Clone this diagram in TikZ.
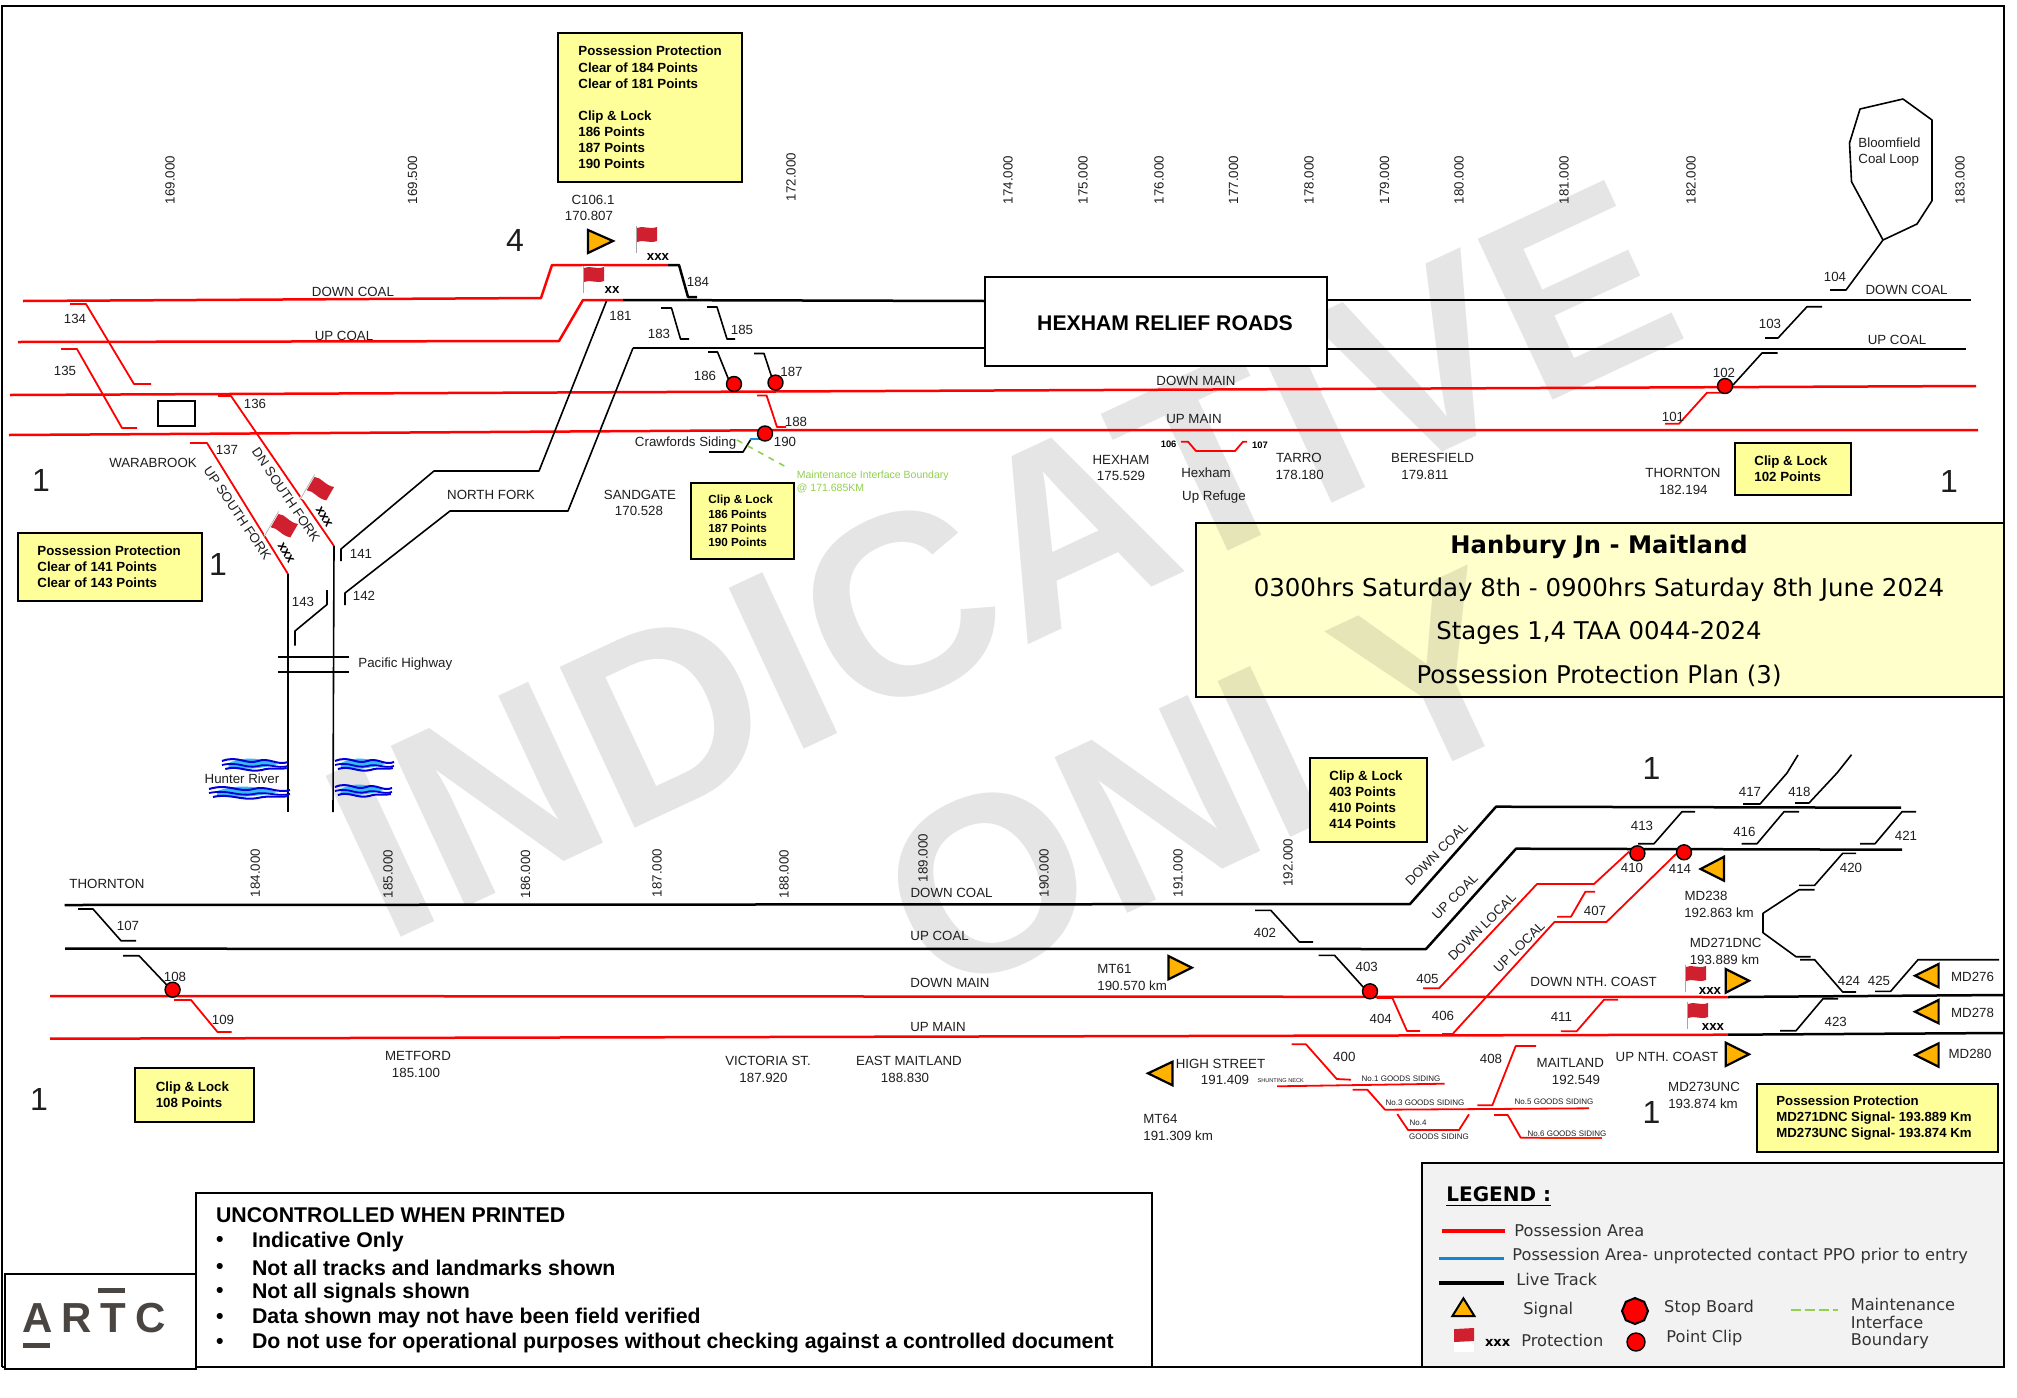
\documentclass[tikz,border=0pt]{standalone}
\usepackage{fontspec}
\usetikzlibrary{shapes.geometric}
\setmainfont{Liberation Sans}
\newfontfamily\vfam{DejaVu Sans}
\newcounter{tn}
\definecolor{tg}{HTML}{1E1E1E}
\definecolor{rd}{HTML}{FF0000}
\definecolor{yb}{HTML}{FFFF99}
\definecolor{yt}{HTML}{FFFFCC}
\definecolor{amb}{HTML}{FFB300}
\definecolor{flagred}{HTML}{D0202F}
\definecolor{mgreen}{HTML}{92D050}
\definecolor{logoc}{HTML}{4A4541}
\tikzset{
 txt/.style={inner sep=0pt,text=tg,font=\fontsize{6.65}{8}\selectfont},
 kmlab/.style={txt,rotate=90},
 big/.style={txt,font=\fontsize{16}{18}\selectfont},
 tiny/.style={txt,font=\fontsize{4}{5}\selectfont},
 bold/.style={txt,text=black,font=\fontsize{6.65}{8}\selectfont\bfseries},
 main/.style={line width=1.25pt,line join=round},
 blk/.style={main,black},
 redm/.style={main,rd},
 xo/.style={line width=.8pt,line join=round,black},
 xr/.style={line width=.9pt,line join=round,rd},
 sig/.style={draw=black,fill=amb,line width=1.1pt,line join=miter},
 pdot/.style={circle,draw=black,fill=rd,line width=.7pt,minimum size=7.5pt,inner sep=0pt},
 ybox/.style={draw=black,fill=yb,line width=1pt,inner sep=0pt,anchor=center},
 lg/.style={txt,font=\vfam\fontsize{8.1}{9.5}\selectfont,anchor=west,text=black!80},
 wm/.style={text=black,text opacity=.1,inner sep=0pt,font=\fontsize{129}{129}\selectfont\bfseries,rotate=25},
}
\newcommand\T[3][]{\stepcounter{tn}\node[txt,#1] (t\arabic{tn}) at (#2) {#3};}
\newcommand\YB[8]{%
 \pgfmathsetmacro\bw{(#4-#2)/2}\pgfmathsetmacro\bh{(#5-#3)/2}\pgfmathsetmacro\bls{#7*1.21}%
 \node[ybox,minimum width=\bw pt,minimum height=\bh pt] (#1) at ({(#2+#4)/2},{(#3+#5)/2}) {};
 \node[inner sep=0pt,anchor=west,align=left,text=black,font=\fontsize{#7}{\bls}\selectfont\bfseries] (#1t) at ({#2+#6},{(#3+#5)/2}) {#8};}
\newcommand\Flag[4]{\begin{scope}[shift={(#1,#2)},rotate=#3,scale=#4]
 \fill[white] (-2,-1) rectangle (20,24);
 \draw[black!35,line width=.3pt] (-1,-1) -- (-1,26);
 \fill[flagred] (0,1) .. controls (6,-2) and (12,3) .. (20,0) -- (20,14) .. controls (12,17) and (6,12) .. (0,15) -- cycle;
 \end{scope}}
\newcommand\Wave[3]{\begin{scope}[shift={(#1,#3)},xscale=#2]
 \fill[cyan!80] (10,-1) .. controls (35,-8) and (55,-6) .. (85,0) .. controls (55,5) and (35,6) .. (10,3) -- cycle;
 \draw[blue!85!black,line width=1pt] (0,-3) .. controls (25,-9) and (35,1) .. (55,-3) .. controls (70,-7) and (85,2) .. (100,-2);
 \draw[blue!85!black,line width=.9pt] (0,1) .. controls (25,-3) and (35,5) .. (55,2) .. controls (70,-1) and (85,5) .. (100,2);
 \draw[blue!85!black,line width=1pt] (5,5) .. controls (25,1) and (40,9) .. (60,6) .. controls (75,3) and (85,6) .. (98,4);
 \end{scope}}
\begin{document}
\begin{tikzpicture}[x=.5pt,y=-.5pt]
\useasboundingbox (0,0) rectangle (2017,1397);
\fill[white] (0,0) rectangle (2017,1397);
% title box fill (the watermark shows through it)
\fill[yt] (1196,523) rectangle (2004,697);
\node[wm] (wm1) at (1002,559) {INDICATIVE};
\node[wm,font=\fontsize{125}{125}\selectfont\bfseries] (wm2) at (1204,783) {ONLY};
% outer frame
\draw[black,line width=.9pt] (2,1367) -- (2,6) -- (2004,6) -- (2004,1163);
\draw[black,line width=.9pt] (2,1367) -- (1422,1367);
% title
\draw[black,line width=1.1pt] (1196,523) rectangle (2004,697);
\T[font=\vfam\fontsize{12.1}{14}\selectfont\bfseries,text=black]{1599,546.7}{Hanbury Jn - Maitland}
\T[font=\vfam\fontsize{12.25}{14}\selectfont,text=black]{1599,590}{0300hrs Saturday 8th - 0900hrs Saturday 8th June 2024}
\T[font=\vfam\fontsize{12.2}{14}\selectfont,text=black]{1599,633}{Stages 1,4 TAA 0044-2024}
\T[font=\vfam\fontsize{12.2}{14}\selectfont,text=black]{1599,676}{Possession Protection Plan (3)}
% km posts
\T[kmlab]{170,180}{169.000}\T[kmlab]{412.6,180}{169.500}\T[kmlab]{791,177}{172.000}
\T[kmlab]{1008,180}{174.000}\T[kmlab]{1083,180}{175.000}\T[kmlab]{1159,180}{176.000}\T[kmlab]{1233.5,180}{177.000}
\T[kmlab]{1309,180}{178.000}\T[kmlab]{1384.6,180}{179.000}\T[kmlab]{1459,180}{180.000}\T[kmlab]{1564,180}{181.000}
\T[kmlab]{1691,180}{182.000}\T[kmlab]{1960,180}{183.000}
\T[kmlab]{255.4,873}{184.000}\T[kmlab]{388,874}{185.000}\T[kmlab]{525.6,874}{186.000}\T[kmlab]{657,873}{187.000}
\T[kmlab]{784,874}{188.000}\T[kmlab]{923,858}{189.000}\T[kmlab]{1044,873}{190.000}\T[kmlab]{1178,873}{191.000}\T[kmlab]{1288,862.7}{192.000}
% upper main tracks
\draw[redm] (23,301) -- (541,298) -- (552,265) -- (668,265);
\draw[blk] (668,265) -- (679,265) -- (688,297) -- (697,297);
\draw[redm] (18,342) -- (559,341) -- (583,300) -- (623,300);
\draw[blk] (623,300) -- (985,301);
\draw[blk] (633,348) -- (985,348);
\draw[redm] (10,395) -- (1976,386);
\draw[redm] (9,435) -- (809,430) -- (1978,430);
\node[draw=black,fill=white,line width=1.3pt,minimum width=171pt,minimum height=44.5pt,inner sep=0pt] (hrr) at (1156,321.5) {};
\T[text=black,font=\fontsize{10.6}{12}\selectfont\bfseries]{1165,323}{HEXHAM RELIEF ROADS}
\draw[blk] (1327,300) -- (1971,300);
\draw[blk] (1327,349) -- (1966,349);
% north fork and south fork
\draw[xr] (70,304) -- (86,304) -- (134,384) -- (151,384);
\draw[xr] (61,349) -- (77,349) -- (122,428) -- (137,428);
\draw[black,line width=.7pt] (158,401) rectangle (195,426);
\draw[xr] (218,396) -- (231,396) -- (334,546);
\draw[xr] (190,443) -- (207,443) -- (288,574);
\draw[xo] (334,546) -- (333,812);
\draw[xo] (288,574) -- (288,812);
\draw[xo] (606.5,301) -- (539,471) -- (434,471) -- (341,549) -- (341,561);
\draw[xo] (633,348) -- (568,511) -- (450,511) -- (345,593) -- (345,605);
\draw[xo] (327,590) -- (327,604.5) -- (295,631) -- (295,645.5);
\draw[xo] (278,657) -- (349,657);
\draw[xo] (278,672) -- (349,672);
\draw[xo] (661,308) -- (671.5,308) -- (680.5,339) -- (689,339);
\draw[xo] (707,307) -- (717,307) -- (727,339) -- (735,339);
\draw[xo] (708,352) -- (717.5,352) -- (728,378) -- (734,384);
\draw[xo] (754,353.5) -- (764,353.5) -- (772,378) -- (775.5,382);
\draw[xr] (757,395.5) -- (766.6,395.5) -- (777,427) -- (786,427);
\draw[xo] (709,452) -- (743,452) -- (751,439);
\draw[line width=1.1pt,cyan!80!blue] (750,439) -- (764,439);
\draw[line width=.8pt,mgreen,dashed] (737,440) -- (788,468);
\node[pdot] (d186) at (734,384) {};
\node[pdot] (d187) at (775.5,382.6) {};
\node[pdot] (d190) at (765,433.5) {};
\Wave{222}{.66}{764}\Wave{209}{.81}{792}\Wave{335}{.59}{764}\Wave{335}{.57}{790}
% top area
\YB{bpp}{558}{33}{742}{182}{20}{6.65}{Possession Protection\\Clear of 184 Points\\Clear of 181 Points\\[8pt]Clip \& Lock\\186 Points\\187 Points\\190 Points}
\T{593,200}{C106.1}\T{589,216}{170.807}
\T[big]{515,240}{4}
\draw[sig] (588,230) -- (613,241) -- (588,253) -- cycle;
\Flag{637}{227}{0}{1}\Flag{584}{267}{0}{1}
\T[bold]{658,257}{xxx}\T[bold]{612,290}{xx}
\T{353,292}{DOWN COAL}\T{344,336}{UP COAL}
\T{75,319}{134}\T{65,370.5}{135}\T{255,404}{136}\T{227,450}{137}
\T{153,462.5}{WARABROOK}
\T[rotate=-56]{237.5,513}{UP SOUTH FORK}\T[rotate=-56]{286,495}{DN SOUTH FORK}
\Flag{315}{476}{-30}{1.1}\Flag{279}{513}{-30}{1.1}
\T[bold,rotate=-60]{324,517}{xxx}\T[bold,rotate=-60]{286,553}{xxx}
\T[big]{41,480}{1}\T[big]{218,564}{1}
\YB{bcl}{18}{533}{201.5}{601}{19}{6.65}{Possession Protection\\Clear of 141 Points\\Clear of 143 Points}
\T{361,553.6}{141}\T{364,596}{142}\T{303,602}{143}
\T[anchor=west]{358,664}{Pacific Highway}
\T{242,778.6}{Hunter River}
\T{620.5,316}{181}\T{659,334}{183}\T{742,329.5}{185}\T{698,282}{184}
\T{705,376}{186}\T{791.5,371.5}{187}\T{796,422}{188}\T{785,441.5}{190}
\T{685.6,443}{Crawfords Siding}
\T[anchor=west,text=mgreen,font=\fontsize{5.25}{6}\selectfont]{796.5,475.5}{Maintenance Interface Boundary}
\T[anchor=west,text=mgreen,font=\fontsize{5.25}{6}\selectfont]{796.5,488}{@ 171.685KM}
\T{491,495}{NORTH FORK}\T{640,495}{SANDGATE}\T{639,511}{170.528}
\YB{bc1}{691}{483}{794}{559}{17}{5.85}{Clip \& Lock\\186 Points\\187 Points\\190 Points}
% right upper
\draw[xo] (1883,240) -- (1851.5,181.7) -- (1849.5,143) -- (1860,109) -- (1903,99) -- (1932,120) -- (1932,200.7) -- (1917,224) -- cycle;
\draw[xo] (1883,240) -- (1846,290) -- (1830,290);
\T[anchor=west,align=left]{1858,152}{Bloomfield\\Coal Loop}
\T{1835,277}{104}\T{1906.6,290}{DOWN COAL}\T{1897,340}{UP COAL}
\draw[xo] (1765,338) -- (1778,338) -- (1807,306.7) -- (1822,306.7);
\T{1770,323.7}{103}
\draw[xo] (1733,385) -- (1762,353) -- (1777.5,353);
\draw[xr] (1665,423.7) -- (1679,423.7) -- (1707,392.7) -- (1725,392.7);
\node[pdot] (d102) at (1725,386) {};
\T{1724,372.7}{102}\T{1673,416.7}{101}
\T{1196,381}{DOWN MAIN}\T{1194,419}{UP MAIN}
\draw[xr] (1181,441.7) -- (1188,441.7) -- (1196,451) -- (1235,451) -- (1243,441.7) -- (1247,441.7);
\T[bold,font=\fontsize{4.7}{6}\selectfont\bfseries]{1168.6,444.7}{106}\T[bold,font=\fontsize{4.7}{6}\selectfont\bfseries]{1260,445}{107}
\T{1206,472.7}{Hexham}\T{1214,496.7}{Up Refuge}
\T{1121,460}{HEXHAM}\T{1121,476}{175.529}\T{1299,458}{TARRO}\T{1299.6,474.7}{178.180}
\T{1432.6,458}{BERESFIELD}\T{1425,474.7}{179.811}\T{1683,473}{THORNTON}\T{1683.5,489.7}{182.194}
\YB{bc2}{1735}{443}{1851}{495}{19}{6.65}{Clip \& Lock\\102 Points}
\T[big]{1949,481}{1}
% lower main tracks
\draw[blk] (64.5,905) -- (1410,904) -- (1496,806.7) -- (1901,807.7);
\draw[blk] (65,948.7) -- (1426,949) -- (1516,848.7) -- (1902,849.7);
\draw[redm] (50,996) -- (1727.5,997);
\draw[blk] (1727.5,997) -- (2004,995);
\draw[redm] (50,1038.7) -- (1727.5,1034.7);
\draw[blk] (1727.5,1034.7) -- (2004,1033);
\draw[xo] (78,909) -- (93,909) -- (121,940.7) -- (136,940.7);
\draw[xo] (123,955.7) -- (139,955.7) -- (168.4,986.7);
\node[pdot] (d108) at (172.6,989.7) {};
\draw[xr] (174,1000) -- (191,1000) -- (217.5,1032) -- (231.6,1032);
\T{107,884}{THORNTON}\T{128,926}{107}\T{175,976.7}{108}\T{223,1020}{109}
\T{951.6,893}{DOWN COAL}\T{939.6,936}{UP COAL}\T{950,982.7}{DOWN MAIN}\T{938,1027}{UP MAIN}
\T{418,1056}{METFORD}\T{416,1072.7}{185.100}\T{768,1061}{VICTORIA ST.}\T{763.5,1077.7}{187.920}\T{909,1061}{EAST MAITLAND}\T{905,1077.7}{188.830}
\YB{bc3}{135.4}{1067.7}{254}{1122}{20}{6.65}{Clip \& Lock\\108 Points}
\T[big]{39,1099}{1}\T[big]{1651.5,768.3}{1}\T[big]{1651.5,1112.7}{1}
\YB{bc4}{1310}{757.7}{1427}{842.3}{19}{6.65}{Clip \& Lock\\403 Points\\410 Points\\414 Points}
% right lower crossovers
\draw[xo] (1743,804) -- (1760,804) -- (1787,773) -- (1798,755);
\draw[xo] (1795,803) -- (1809,803) -- (1837,773) -- (1851.5,754.7);
\draw[xo] (1638,843.7) -- (1654,843.7) -- (1682,811.7) -- (1695,811.7);
\draw[xo] (1741.5,843.7) -- (1757,843.7) -- (1784,811.7) -- (1799,811.7);
\draw[xo] (1860,843.7) -- (1875,843.7) -- (1902,811.7) -- (1916,811.7);
\draw[xr] (1423,988.3) -- (1439,988.3) -- (1537,884) -- (1594,884) -- (1629,851.7);
\draw[xr] (1442,1034) -- (1452.6,1034) -- (1554.4,922) -- (1606.4,922) -- (1676,854);
\draw[xr] (1557,916.7) -- (1571,916.7) -- (1585.4,891.7) -- (1595,891.7);
\node[pdot] (d410) at (1637.4,853.3) {};
\node[pdot] (d414) at (1684,852.3) {};
\draw[xo] (1255,910.3) -- (1270.8,910.3) -- (1299.4,942) -- (1313,942);
\draw[xo] (1318.7,955.3) -- (1334.5,955.3) -- (1364.3,988.3);
\node[pdot] (d403) at (1370,991.3) {};
\draw[xr] (1376.6,998) -- (1392.4,998) -- (1407,1031) -- (1420,1031);
\draw[xr] (1560.8,1031.3) -- (1576.6,1031.3) -- (1604,999.7) -- (1618,999.7);
\draw[xo] (1780,1030.7) -- (1796,1030.7) -- (1823,998.7) -- (1838,998.7);
\draw[xo] (1799,885.3) -- (1814.6,885.3) -- (1842.7,853.3) -- (1856,853.3);
\draw[xo] (1814.6,889.7) -- (1799,889.7) -- (1763,913.3) -- (1763,932.7) -- (1796,956.7) -- (1810.5,956.7);
\draw[xo] (1800,959.7) -- (1814.6,959.7) -- (1842.7,992) -- (1856,992);
\draw[xo] (1875,991.3) -- (1890.6,991.3) -- (1918,959.7) -- (1999,959.7);
\T{1750,792}{417}\T{1799.4,792}{418}\T{1642,826}{413}\T{1744.4,832}{416}\T{1906,835.7}{421}
\T{1632,868.3}{410}\T{1680,869.3}{414}\T{1427.5,979.3}{405}\T{1443,1016.3}{406}\T{1595,910.7}{407}
\T{1265,933.3}{402}\T{1366.7,966.7}{403}\T{1380.7,1019.3}{404}\T{1561.4,1017.3}{411}\T{1835.7,1022.3}{423}
\T{1851,868.3}{420}\T{1849,980.7}{424}\T{1879,980.7}{425}
\T[rotate=45]{1436.5,854}{DOWN COAL}\T[rotate=45]{1455,896.7}{UP COAL}\T[rotate=45]{1482,927}{DOWN LOCAL}\T[rotate=45]{1519,947}{UP LOCAL}
% signals
\draw[sig] (1724,856.7) -- (1700.6,869) -- (1724,880.7) -- cycle;
\draw[sig] (1168.4,956) -- (1191.8,967.7) -- (1168.4,979.3) -- cycle;
\draw[sig] (1725.7,969) -- (1749,980.7) -- (1725.7,992.7) -- cycle;
\draw[sig] (1938.6,964) -- (1915,975.7) -- (1938.6,987.3) -- cycle;
\draw[sig] (1938.6,1000) -- (1915,1011.7) -- (1938.6,1023.3) -- cycle;
\draw[sig] (1938.6,1043.3) -- (1915,1055) -- (1938.6,1066.7) -- cycle;
\draw[sig] (1725.7,1042.7) -- (1749,1054.3) -- (1725.7,1066) -- cycle;
\draw[sig] (1172.5,1061.7) -- (1148,1073.3) -- (1172.5,1085.3) -- cycle;
\Flag{1686}{966}{0}{1}\Flag{1688}{1003}{0}{1}
\T[bold]{1710,990.7}{xxx}\T[bold]{1713,1027}{xxx}
\T{1706,896.3}{MD238}\T{1719,912.7}{192.863 km}
\T[anchor=west]{1097,968.7}{MT61}\T[anchor=west]{1097,985.5}{190.570 km}
\T{1593.6,982.3}{DOWN NTH. COAST}
\T{1725.7,943.3}{MD271DNC}\T{1724.5,959.3}{193.889 km}
\T{1972.5,977.3}{MD276}\T{1972.5,1013.3}{MD278}\T{1970,1054.3}{MD280}
\T{1667,1057.3}{UP NTH. COAST}\T{1704,1087.3}{MD273UNC}\T{1703,1103.3}{193.874 km}
\YB{bpp2}{1757}{1084.3}{1997.7}{1152.3}{19}{6.6}{Possession Protection\\MD271DNC Signal- 193.889 Km\\MD273UNC Signal- 193.874 Km}
% sidings
\draw[xr] (1277,1086.3) -- (1444.7,1083.7);
\draw[xr] (1291.7,1044.3) -- (1306,1044.3) -- (1336.7,1079) -- (1351,1079.7);
\draw[xr] (1352.7,1089.7) -- (1367.3,1089.7) -- (1385,1109.7) -- (1589,1108.3);
\draw[xr] (1477.3,1105.3) -- (1492.3,1105.3) -- (1515.7,1046) -- (1536,1046);
\draw[xr] (1397.3,1114) -- (1408,1130) -- (1459,1130) -- (1469,1114.3);
\draw[xr] (1494,1115) -- (1507.7,1115) -- (1520.7,1137.7) -- (1540,1137.7);
\draw[line width=.9pt,orange!30!red] (1540,1137.7) -- (1602,1137.7);
\T{1220.5,1064}{HIGH STREET}\T{1225,1080.3}{191.409}
\T[tiny,font=\fontsize{2.8}{4}\selectfont]{1280.7,1081}{SHUNTING NECK}
\T[anchor=west]{1143,1119.3}{MT64}\T[anchor=west]{1143,1135.7}{191.309 km}
\T{1344.3,1056.7}{400}\T{1491,1058.7}{408}\T{1570.3,1063.3}{MAITLAND}\T{1576,1079.7}{192.549}
\T[tiny]{1401,1078.3}{No.1 GOODS SIDING}\T[tiny]{1425,1103}{No.3 GOODS SIDING}\T[tiny]{1554,1102}{No.5 GOODS SIDING}
\T[tiny]{1418,1123}{No.4}\T[tiny]{1439,1137}{GOODS SIDING}\T[tiny]{1567,1133.3}{No.6 GOODS SIDING}
% disclaimer
\draw[black,line width=1pt] (196,1193) rectangle (1152,1367);
\tikzset{dsc/.style={txt,anchor=west,text=black,font=\fontsize{10.65}{12}\selectfont\bfseries}}
\T[dsc]{215.7,1215}{UNCONTROLLED WHEN PRINTED}
\T[dsc]{215.7,1241.7}{•}\T[dsc]{251.7,1241.7}{Indicative Only}
\T[dsc]{215.7,1268}{•}\T[dsc]{251.7,1268}{Not all tracks and landmarks shown}
\T[dsc]{215.7,1292.7}{•}\T[dsc]{251.7,1292.7}{Not all signals shown}
\T[dsc]{215.7,1318}{•}\T[dsc]{251.7,1318}{Data shown may not have been field verified}
\T[dsc]{215.7,1343}{•}\T[dsc]{251.7,1343}{Do not use for operational purposes without checking against a controlled document}
% logo
\draw[black,line width=1.4pt,fill=white] (5,1274) rectangle (196,1369);
\fill[logoc] (98.3,1288.3) rectangle (125,1293.3);
\fill[logoc] (23.3,1342.7) rectangle (50,1347.7);
\T[text=logoc,font=\addfontfeatures{LetterSpace=21}\fontsize{21}{24}\selectfont\bfseries,anchor=base]{94,1332.7}{ARTC}
% legend
\draw[black,fill=black!5,line width=1.3pt] (1422,1163) rectangle (2004,1367);
\T[lg,text=black,font=\vfam\fontsize{10}{12}\selectfont\bfseries]{1446,1196.7}{\underline{LEGEND :}}
\draw[rd,line width=1.7pt] (1441.7,1231) -- (1505,1231);
\T[lg]{1514,1230}{Possession Area}
\draw[cyan!70!blue,line width=1.7pt] (1439.4,1258.7) -- (1503.5,1258.7);
\T[lg]{1512,1255.7}{Possession Area- unprotected contact PPO prior to entry}
\draw[black,line width=1.7pt] (1439.4,1283) -- (1503.5,1283);
\T[lg]{1516,1279.7}{Live Track}
\draw[draw=black,fill=amb,line width=1pt,line join=miter] (1463.4,1298.3) -- (1474.4,1316) -- (1452.4,1316) -- cycle;
\T[lg]{1523,1310}{Signal}
\begin{scope}[shift={(1454,1328)}]\fill[white] (0,0) rectangle (20,24);\fill[flagred] (0,1) -- (20,0) -- (20,13) -- (0,14) -- cycle;\end{scope}
\T[lg,text=black,font=\vfam\fontsize{6.5}{8}\selectfont\bfseries]{1484.6,1343.3}{xxx}
\T[lg]{1521,1340.7}{Protection}
\node[regular polygon,regular polygon sides=8,shape border rotate=22.5,draw=black,fill=rd,line width=1pt,minimum size=13pt,inner sep=0pt] (stopb) at (1635,1311) {};
\T[lg]{1663.8,1307.7}{Stop Board}
\node[pdot,minimum size=9pt] (cl) at (1636,1342) {};
\T[lg]{1666,1338.3}{Point Clip}
\draw[mgreen,line width=1.3pt,dash pattern=on 5pt off 2pt] (1790.6,1310) -- (1838,1310);
\T[lg]{1850.4,1304}{Maintenance}\T[lg]{1850.4,1322.3}{Interface}\T[lg]{1850.4,1340.7}{Boundary}
\end{tikzpicture}
\end{document}
